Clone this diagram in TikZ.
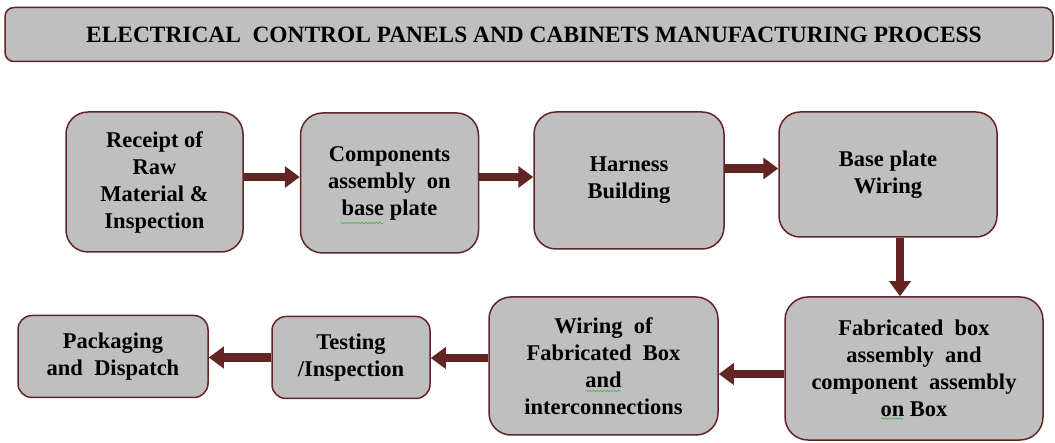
\documentclass[tikz,border=0pt]{standalone}
\usepackage{fontspec}
\setmainfont{Liberation Serif}
\usetikzlibrary{arrows.meta,decorations.pathmorphing}
\definecolor{brd}{HTML}{632523}
\definecolor{boxgray}{HTML}{BFBFBF}
\definecolor{spellgreen}{HTML}{4CAF50}
\begin{document}
\begin{tikzpicture}[x=1pt,y=-1pt,
  proc/.style={draw=brd, fill=boxgray, line width=1.5pt, align=center,
    font=\bfseries\fontsize{22.5}{27}\selectfont, inner sep=0pt},
  arr/.style={draw=brd, line width=8.5pt, -{Triangle[length=15pt,width=21pt]}},
  wavy/.style={draw=spellgreen, line width=0.7pt, decorate,
    decoration={snake, segment length=3.5pt, amplitude=0.8pt}}]
\useasboundingbox (0,0) rectangle (1055,443);
\node[proc, rounded corners=9pt, minimum width=1048pt, minimum height=54pt,
  font=\bfseries\fontsize{23.4}{26}\selectfont] (title) at (529,34.5)
  {\hspace*{10pt}\raisebox{-1.5pt}{ELECTRICAL\ \ CONTROL PANELS AND CABINETS MANUFACTURING PROCESS}};
\node[proc, rounded corners=22pt, minimum width=177pt, minimum height=140pt] (b1) at (154.5,182)
  {Receipt of\\Raw\\Material \&\\Inspection};
\node[proc, rounded corners=22pt, minimum width=178pt, minimum height=140pt] (b2) at (389.5,183)
  {Components\\assembly\ \ on\\base plate};
\node[proc, rounded corners=22pt, minimum width=190pt, minimum height=137pt] (b3) at (629,180.5)
  {Harness\\Building};
\node[proc, rounded corners=21pt, minimum width=218pt, minimum height=125pt] (b4) at (888,174.5)
  {Base plate\\Wiring};
\node[proc, rounded corners=23pt, minimum width=258pt, minimum height=143pt] (b5) at (914,368.5)
  {Fabricated\ \ box\\assembly\ \ and\\component\ \ assembly\\on Box};
\node[proc, rounded corners=22pt, minimum width=229pt, minimum height=138pt] (b6) at (603.5,366)
  {Wiring\ \ of\\Fabricated\ \ Box\\and\\interconnections};
\node[proc, rounded corners=14pt, minimum width=158pt, minimum height=82pt] (b7) at (351,357.5)
  {Testing\\/Inspection};
\node[proc, rounded corners=14pt, minimum width=190pt, minimum height=82pt] (b8) at (113,356.5)
  {Packaging\\and\ \ Dispatch};
\draw[wavy] ([shift={(-49,40)}]b2.center) -- ++(43,0);
\draw[wavy] ([shift={(-18,25)}]b6.center) -- ++(35,0);
\draw[wavy] ([shift={(-33,50)}]b5.center) -- ++(22,0);
\draw[arr] ([yshift=5pt]b1.east) -- ([yshift=5pt]b1.east -| b2.west);
\draw[arr] ([yshift=6pt]b2.east) -- ([yshift=6pt]b2.east -| b3.west);
\draw[arr] ([yshift=12pt]b3.east) -- ([yshift=12pt]b3.east -| b4.west);
\draw[arr] ([xshift=12pt]b4.south) -- ([xshift=12pt]b4.south |- b5.north);
\draw[arr] ([yshift=-5.5pt]b5.west) -- ([yshift=-5.5pt]b5.west -| b6.east);
\draw[arr] ([yshift=8pt]b6.west) -- ([yshift=8pt]b6.west -| b7.east);
\draw[arr] (b7.west) -- (b7.west -| b8.east);
\end{tikzpicture}
\end{document}
